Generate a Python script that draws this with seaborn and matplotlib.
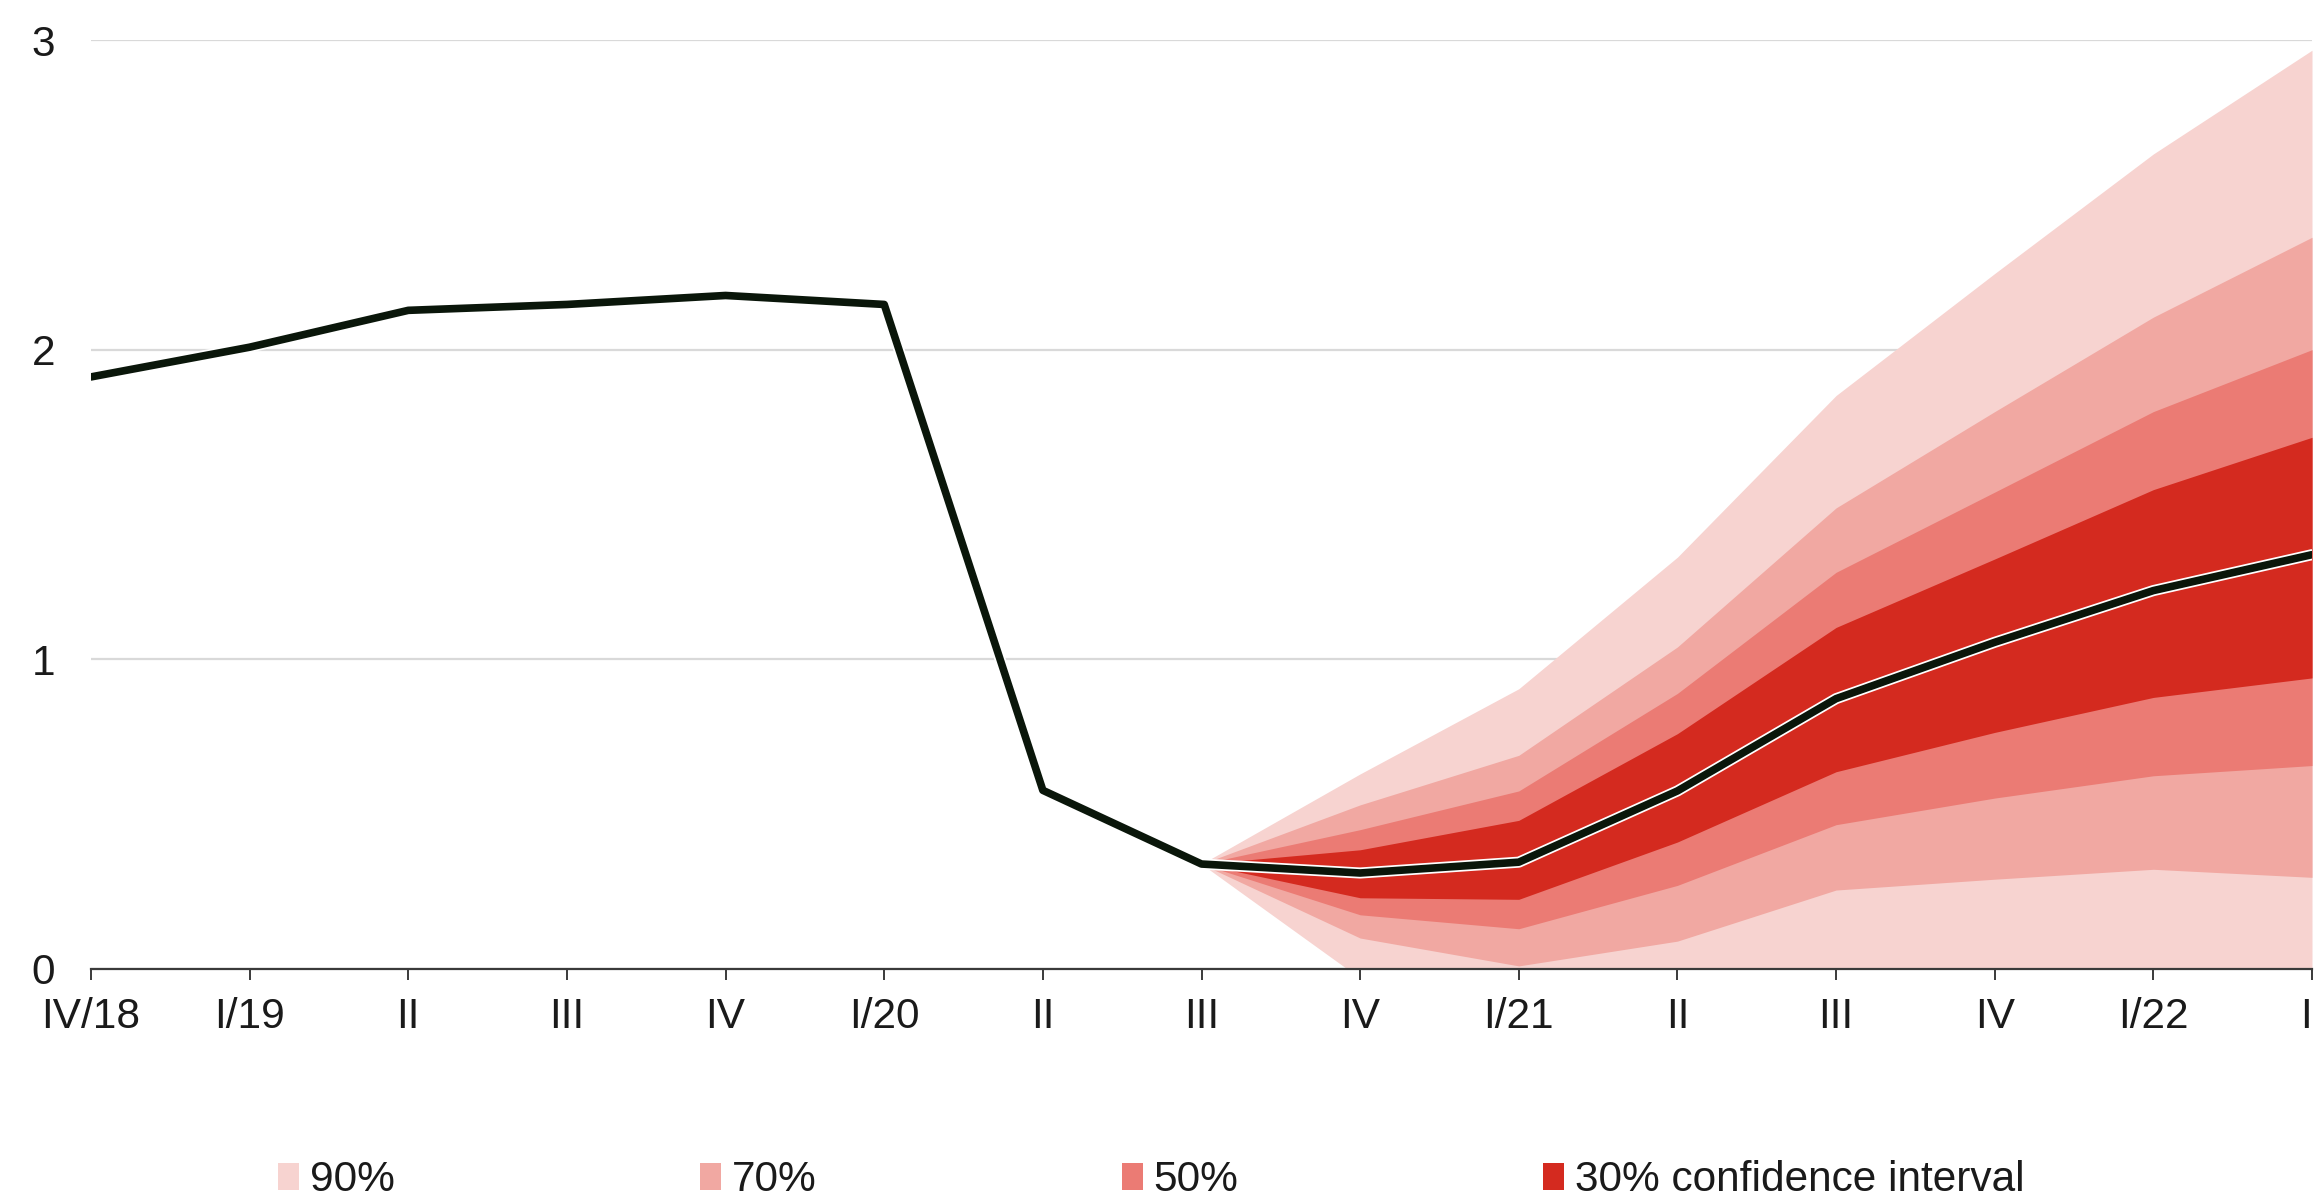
import numpy as np
import pandas as pd
import matplotlib
matplotlib.use("Agg")
import matplotlib.pyplot as plt
import matplotlib.patheffects as pe
from matplotlib.patches import Patch
import seaborn as sns

# Quarters on the x axis
quarters = ["IV/18", "I/19", "II", "III", "IV", "I/20", "II", "III",
            "IV", "I/21", "II", "III", "IV", "I/22", "II"]

# Central projection / actuals
inflation = [1.912, 2.008, 2.127, 2.146, 2.175, 2.146, 0.577, 0.339,
             0.31, 0.345, 0.575, 0.873, 1.055, 1.222, 1.338]

# Fan chart bands, starting at III/20 (index 7)
fan_start = 7
upper90 = [0.339, 0.63, 0.905, 1.33, 1.852, 2.246, 2.632, 2.967]
upper70 = [0.339, 0.53, 0.69, 1.04, 1.489, 1.80, 2.105, 2.363]
upper50 = [0.339, 0.45, 0.575, 0.89, 1.281, 1.54, 1.80, 2.0]
upper30 = [0.339, 0.385, 0.48, 0.76, 1.103, 1.324, 1.548, 1.717]
lower30 = [0.339, 0.23, 0.225, 0.41, 0.637, 0.764, 0.877, 0.94]
lower50 = [0.339, 0.175, 0.13, 0.27, 0.466, 0.552, 0.624, 0.657]
lower70 = [0.339, 0.10, 0.01, 0.09, 0.255, 0.29, 0.322, 0.296]
lower90 = [0.339, -0.03, 0.0, 0.0, 0.0, 0.0, 0.0, 0.0]

band_labels = ["90%", "70%", "50%", "30% confidence interval"]
band_colors = ["#f7d3d0", "#f1a8a2", "#eb7b74", "#d42a1f"]
line_color = "#0a160a"
text_color = "#1a1a1a"

sns.set_style("white")
plt.rcParams["font.family"] = ["Liberation Sans", "DejaVu Sans"]

fig = plt.figure(figsize=(23.15, 12.01), dpi=100)
ax = fig.add_axes([91 / 2315, 1 - 969 / 1201, (2312 - 91) / 2315, (969 - 40) / 1201])

x = np.arange(len(quarters))
xf = x[fan_start:]
bands = [(lower90, upper90), (lower70, upper70), (lower50, upper50), (lower30, upper30)]
for (lo, hi), col in zip(bands, band_colors):
    ax.fill_between(xf, lo, hi, color=col, linewidth=0, zorder=2)

df = pd.DataFrame({"x": x, "inflation": inflation})
sns.lineplot(data=df, x="x", y="inflation", color=line_color, linewidth=5.5,
             ax=ax, zorder=4,
             path_effects=[pe.Stroke(linewidth=8.0, foreground="white"), pe.Normal()])

ax.set_xlim(0, len(quarters) - 1)
ax.set_ylim(0, 3)
ax.set_xticks(x)
ax.set_xticklabels(quarters)
ax.set_yticks([0, 1, 2, 3])
ax.set_xlabel("")
ax.set_ylabel("")

ax.set_axisbelow(True)
ax.yaxis.grid(True, color="#d9d9d9", linewidth=1.6)
ax.xaxis.grid(False)
for s in ["top", "right", "left"]:
    ax.spines[s].set_visible(False)
ax.spines["bottom"].set_color("#3a3a3a")
ax.spines["bottom"].set_linewidth(1.6)
ax.spines["bottom"].set_zorder(5)

ax.tick_params(axis="x", length=8, width=1.4, color="#3a3a3a", pad=12,
               labelsize=30.5, labelcolor=text_color, bottom=True)
ax.tick_params(axis="y", length=0, pad=26, labelsize=30.5, labelcolor=text_color)

# legend entries placed along the bottom
leg_x = [278, 700, 1122, 1543]
for lab, col, lx in zip(band_labels, band_colors, leg_x):
    fig.legend(handles=[Patch(facecolor=col, edgecolor="none", label=lab)],
               loc="center left", bbox_to_anchor=(lx / 2315, 1 - 1180 / 1201),
               frameon=False, fontsize=30.5, handlelength=0.5, handleheight=0.6,
               handletextpad=0.25, borderaxespad=0, borderpad=0, labelcolor=text_color)

fig.savefig("out.png", dpi=100)
